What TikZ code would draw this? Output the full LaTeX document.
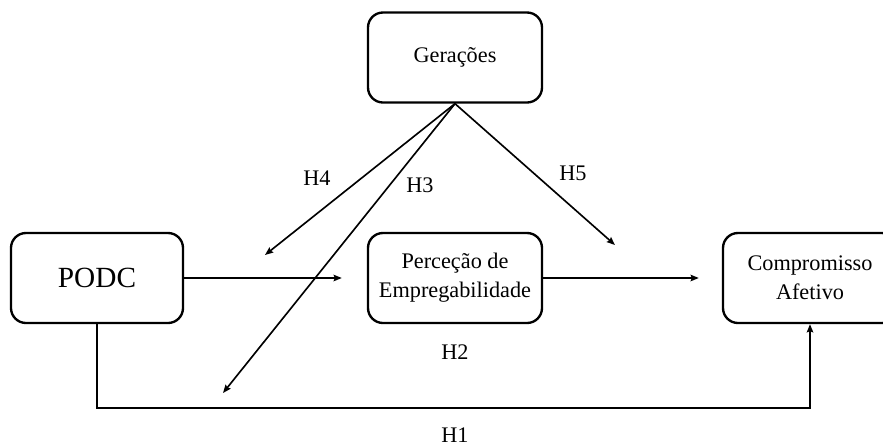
\documentclass[tikz,border=0pt]{standalone}
\usepackage{fontspec}
\setmainfont{Liberation Serif}
\usetikzlibrary{arrows.meta}

\begin{document}
\begin{tikzpicture}[
  x=0.03cm, y=-0.03cm,
  varBox/.style={draw, rounded corners=0.45cm, line width=2pt,
                 minimum width=5.22cm, minimum height=2.7cm, align=center,
                 inner sep=2pt, font=\fontsize{19}{25}\selectfont},
  hypLabel/.style={font=\fontsize{19}{23}\selectfont},
  effect/.style={-{Stealth[length=7pt,width=5.5pt,inset=1pt]},
                 line width=1.4pt},
]
  \path[use as bounding box, clip] (0,0) rectangle (883,446);

  % === Variables ===
  \node[varBox] (ger) at (455,57.5) {Gerações};
  \node[varBox, minimum width=5.16cm, font=\fontsize{25}{30}\selectfont]
    (podc) at (97,278) {PODC};
  \node[varBox] (perc) at (455,278) {Perceção de\\Empregabilidade};
  \node[varBox] (comp) at (810,278) {Compromisso\\Afetivo};

  % === Direct effects ===
  \draw[effect, shorten >=0.75cm] (podc) -- (perc);
  \draw[effect, shorten >=0.69cm] (perc) -- (comp);
  \coordinate (h1base) at (97,408);
  \draw[effect] (podc.south) -- (h1base) -| (comp.south);

  % === Moderation by generations ===
  \coordinate (h4end) at (265,255);
  \coordinate (h3end) at (223,393);
  \coordinate (h5end) at (615,245);
  \draw[effect] (ger.south) -- (h4end);
  \draw[effect] (ger.south) -- (h3end);
  \draw[effect] (ger.south) -- (h5end);

  % Labels
  \node[hypLabel] (h4) at (317,178) {H4};
  \node[hypLabel] (h3) at (420,185) {H3};
  \node[hypLabel] (h5) at (573,173) {H5};
  \node[hypLabel] (h2) at (455,352) {H2};
  \node[hypLabel] (h1) at (455,435) {H1};
\end{tikzpicture}
\end{document}
